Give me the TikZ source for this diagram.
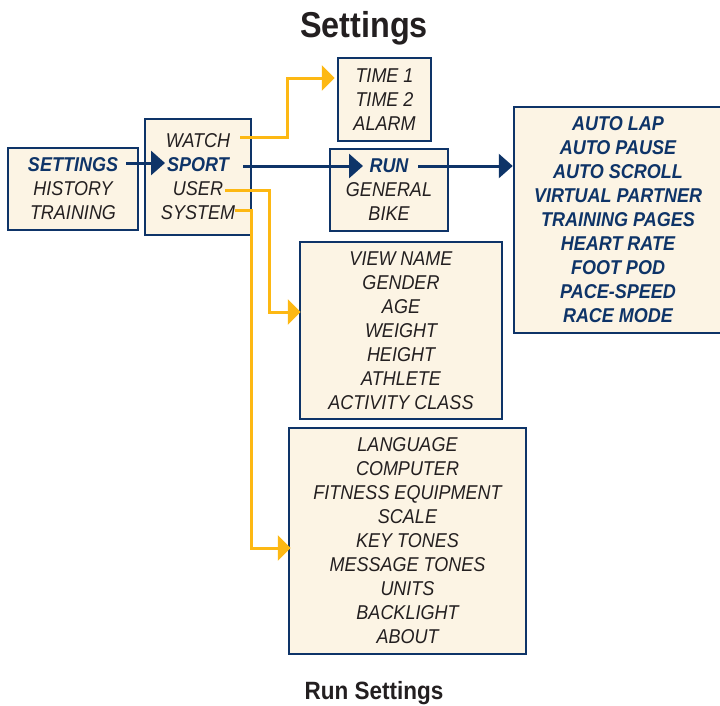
\documentclass[tikz,border=0pt]{standalone}
\usepackage{fontspec}
\setmainfont[FakeStretch=0.9]{Liberation Sans}
\usetikzlibrary{arrows.meta}
\definecolor{navy}{HTML}{0E3468}
\definecolor{txt}{HTML}{231F20}
\definecolor{cream}{HTML}{FCF4E4}
\definecolor{ylw}{HTML}{FDB813}
\tikzset{
  menubox/.style={draw=navy, line width=2.5pt, fill=cream, align=center, inner sep=0pt,
    font=\fontsize{20}{24}\selectfont\itshape, text=txt},
  navyarrow/.style={draw=navy, line width=3pt, -{Triangle[length=14pt,width=24pt]}},
  yarrow/.style={draw=ylw, line width=3pt, -{Triangle[length=13pt,width=25pt]}},
}
\newcommand{\hlt}[1]{{\bfseries\color{navy}#1}}
\begin{document}
\begin{tikzpicture}[x=1pt,y=-1pt]
\clip (0,0) rectangle (720,705);
\useasboundingbox (0,0) rectangle (720,705);

\node[anchor=base, font=\fontsize{36}{40}\selectfont\bfseries, text=txt] (title) at (364,37) {Settings};
\node[anchor=base, font=\fontsize{25}{28}\selectfont\bfseries, text=txt] (caption) at (374,699) {Run Settings};

\node[menubox, minimum width=130pt, minimum height=82pt] (main) at (73,189)
  {\hlt{SETTINGS}\\HISTORY\\TRAINING};
\node[menubox, minimum width=106pt, minimum height=116pt] (settings) at (198,177)
  {WATCH\\\hlt{SPORT}\\USER\\SYSTEM};
\node[menubox, minimum width=93pt, minimum height=83pt] (watch) at (384.5,99.5)
  {TIME 1\\TIME 2\\ALARM};
\node[menubox, minimum width=118pt, minimum height=82pt] (sport) at (389,190)
  {\hlt{RUN}\\GENERAL\\BIKE};
\node[menubox, minimum width=208pt, minimum height=226pt] (run) at (618,220)
  {\hlt{AUTO LAP}\\\hlt{AUTO PAUSE}\\\hlt{AUTO SCROLL}\\\hlt{VIRTUAL PARTNER}\\\hlt{TRAINING PAGES}\\\hlt{HEART RATE}\\\hlt{FOOT POD}\\\hlt{PACE-SPEED}\\\hlt{RACE MODE}};
\node[menubox, minimum width=202pt, minimum height=177pt] (user) at (401,330.5)
  {VIEW NAME\\GENDER\\AGE\\WEIGHT\\HEIGHT\\ATHLETE\\ACTIVITY CLASS};
\node[menubox, minimum width=237pt, minimum height=226pt] (system) at (407.5,541)
  {LANGUAGE\\COMPUTER\\FITNESS EQUIPMENT\\SCALE\\KEY TONES\\MESSAGE TONES\\UNITS\\BACKLIGHT\\ABOUT};

% connector end points
\coordinate (settingsOut) at (126,163);
\coordinate (sportIn) at (165,163);
\coordinate (sportOut) at (243,166);
\coordinate (runIn) at (363,166);
\coordinate (runOut) at (418,166);
\coordinate (watchOut) at (240,137);
\coordinate (userOut) at (225,190);
\coordinate (systemOut) at (235,210);

\draw[navyarrow] (settingsOut) -- (sportIn);
\draw[navyarrow] (sportOut) -- (runIn);
\draw[navyarrow] (runOut) -- (run.west |- runOut);

\draw[yarrow] (watchOut) -- (287,137) -- (287,78) -- ([xshift=-2pt]watch.west |- 0,78);
\draw[yarrow] (userOut) -- (269,190) -- (269,312) -- ([xshift=2pt]user.west |- 0,312);
\draw[yarrow] (systemOut) -- (251,210) -- (251,548) -- ([xshift=3pt]system.west |- 0,548);
\end{tikzpicture}
\end{document}
